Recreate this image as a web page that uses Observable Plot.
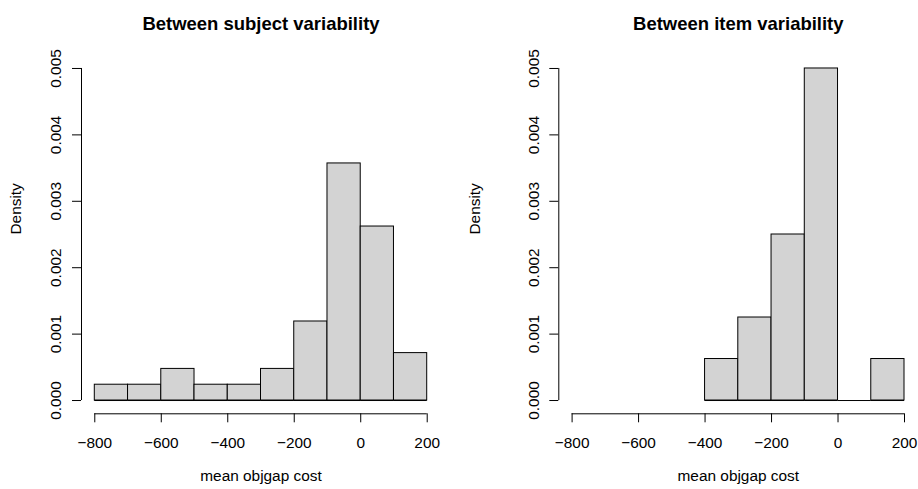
<!DOCTYPE html>
<html>
<head>
<meta charset="utf-8">
<script src="https://cdn.jsdelivr.net/npm/d3@7"></script>
<script src="https://cdn.jsdelivr.net/npm/@observablehq/plot@0.6"></script>
<style>
  html, body { margin: 0; padding: 0; background: white; }
  #chart { display: flex; flex-direction: row; width: 918px; height: 489px; }
  #chart svg { display: block; }
</style>
</head>
<body>
<div id="chart"></div>
<script>
// ---- data ----
const xTicks = [-800, -600, -400, -200, 0, 200];
const yTicks = [0, 0.001, 0.002, 0.003, 0.004, 0.005];

const subjectTitle = "Between subject variability";
const subjectBinEdges = [-800, -700, -600, -500, -400, -300, -200, -100, 0, 100, 200];
const subjectDensity = [0.000238, 0.000238, 0.000476, 0.000238, 0.000238, 0.000476, 0.00119, 0.00357, 0.00262, 0.000714];

const itemTitle = "Between item variability";
const itemBinEdges = [-400, -300, -200, -100, 0, 100, 200];
const itemDensity = [0.000625, 0.00125, 0.0025, 0.005, 0, 0.000625];

const xLabel = "mean objgap cost";
const yLabel = "Density";

// ---- drawing ----
const FONT = "'Liberation Sans', Arial, Helvetica, sans-serif";
const BASE = 15.4;

function bins(edges, dens) {
  return dens.map((d, i) => ({x1: edges[i], x2: edges[i + 1], density: d}));
}

function panel({title, edges, dens, marginLeft, marginRight}) {
  const data = bins(edges, dens);
  const xPad = 0.04 * (xTicks[xTicks.length - 1] - xTicks[0]);
  const yPad = 0.04 * (yTicks[yTicks.length - 1] - yTicks[0]);
  const xMin = xTicks[0] - xPad;
  return Plot.plot({
    width: 459,
    height: 489,
    marginLeft,
    marginRight,
    marginTop: 54.7,
    marginBottom: 75.7,
    style: {fontFamily: FONT, fontSize: BASE + "px", background: "white", color: "black"},
    x: {domain: [xMin, xTicks[xTicks.length - 1] + xPad]},
    y: {domain: [yTicks[0] - yPad, yTicks[yTicks.length - 1] + yPad]},
    marks: [
      Plot.rectY(data, {x1: "x1", x2: "x2", y1: 0, y2: "density", fill: "#d3d3d3", stroke: "black", strokeWidth: 1}),
      Plot.ruleY(data, {x1: "x1", x2: "x2", y: 0, stroke: "black", strokeWidth: 1}),
      // x axis line and ticks
      Plot.ruleY([yTicks[0] - yPad], {x1: xTicks[0], x2: xTicks[xTicks.length - 1], stroke: "black"}),
      Plot.axisX({ticks: xTicks, tickSize: 9, tickPadding: 14.1, fontSize: BASE, label: null, tickFormat: d => d === 0 ? "0" : d3.format("d")(d).replace("-", "\u2212")}),
      // y axis line and ticks
      Plot.ruleX([xMin], {y1: yTicks[0], y2: yTicks[yTicks.length - 1], stroke: "black"}),
      Plot.axisY({ticks: yTicks, tickSize: 9, text: null, label: null}),
      Plot.text(yTicks, {x: xMin, y: d => d, text: d3.format(".3f"), rotate: -90, textAnchor: "middle", lineAnchor: "middle", dx: -25.2, fontSize: BASE, fill: "black"}),
      // title and axis labels
      Plot.text([title], {frameAnchor: "top", dy: -38, fontWeight: "bold", fontSize: BASE * 1.2, fill: "black"}),
      Plot.text([xLabel], {frameAnchor: "bottom", dy: 66.8, fontSize: BASE, fill: "black"}),
      Plot.text([yLabel], {frameAnchor: "left", rotate: -90, dx: -(marginLeft - 15.8), fontSize: BASE, fill: "black"})
    ]
  });
}

const chart = document.getElementById("chart");
chart.append(panel({title: subjectTitle, edges: subjectBinEdges, dens: subjectDensity, marginLeft: 81, marginRight: 19}));
chart.append(panel({title: itemTitle, edges: itemBinEdges, dens: itemDensity, marginLeft: 99.3, marginRight: 0.7}));
</script>
</body>
</html>
